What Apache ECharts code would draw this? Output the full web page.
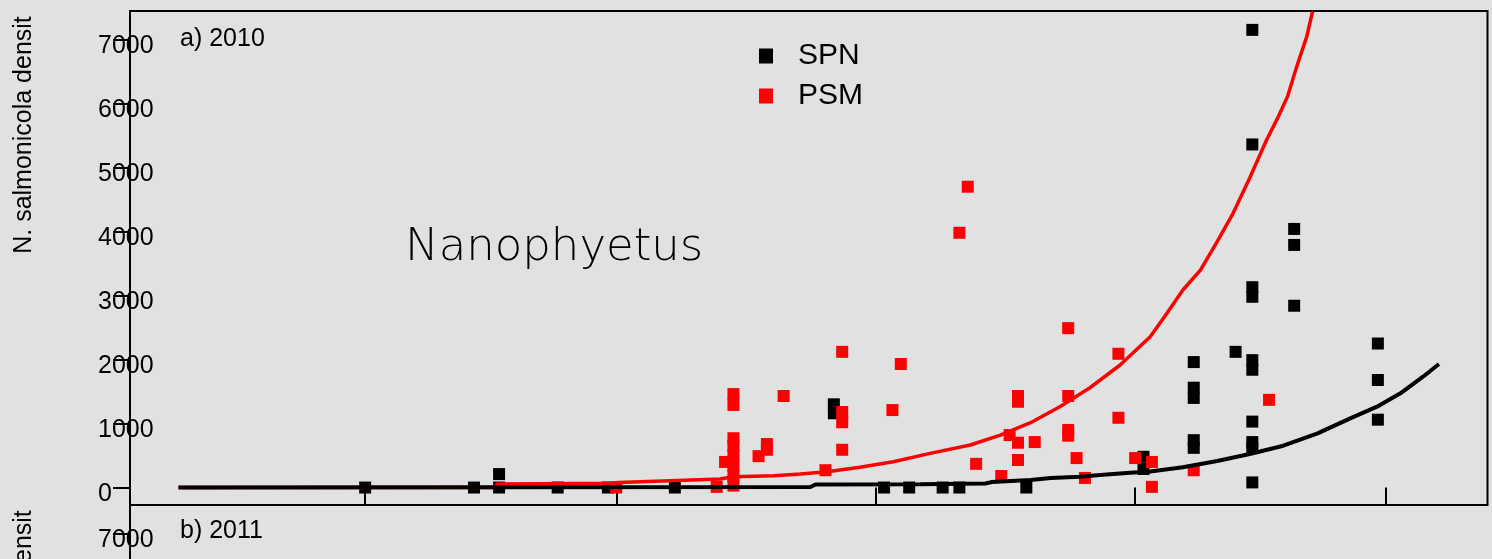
<!DOCTYPE html>
<html>
<head>
<meta charset="utf-8">
<script src="https://cdn.jsdelivr.net/npm/echarts@6/dist/echarts.min.js"></script>
<style>
  html, body { margin: 0; padding: 0; background: #e1e1e1; }
  #chart { width: 1492px; height: 559px; }
</style>
</head>
<body>
<div id="chart"></div>
<script>
// x = day of year 2010, ticks on the 1st of Jun, Jul, Aug, Sep, Oct
var monthTicks = [152, 182, 213, 244, 274];
var yTicks = [0, 1000, 2000, 3000, 4000, 5000, 6000, 7000];

// SPN observations
var spnDays = [152, 165, 168, 168, 175, 181, 189, 208, 208, 214, 217, 221, 223, 231, 245, 245,
  251, 251, 251, 251, 251, 256,
  258, 258, 258, 258, 258, 258, 258, 258, 258, 258,
  263, 263, 263, 273, 273, 273];
var spnValues = [0, 0, 210, 0, 0, 0, 0, 1300, 1160, 0, 0, 0, 0, 0, 480, 290,
  1960, 1560, 1400, 740, 620, 2120,
  7150, 5360, 3130, 2980, 1990, 1840, 1030, 710, 620, 80,
  4040, 3790, 2840, 2250, 1680, 1060];

// PSM observations
var psmDays = [182, 194, 195, 196, 196, 196, 196, 196, 196, 196, 196, 199, 200, 200, 202, 207,
  209, 209, 209, 209, 215, 216, 223, 224, 225, 228, 229, 230, 230, 230, 230, 232,
  236, 236, 236, 236, 237, 238, 242, 242, 244, 246, 246, 251, 260];
var psmValues = [0, 10, 400, 1460, 1290, 770, 650, 510, 340, 180, 30, 490, 680, 590, 1430, 270,
  2120, 1180, 1020, 590, 1210, 1930, 3980, 4700, 370, 180, 820, 1430, 1340, 700, 430, 710,
  2490, 1430, 900, 810, 460, 150, 2090, 1090, 460, 400, 10, 270, 1370];

// fitted curves
var spnFitDays = [129.7, 205.2, 205.8, 218.3, 226.1, 226.9, 231.5, 233.9, 237.4, 239.8, 243.4, 245.8,
  249.7, 253.8, 257.7, 261.7, 265.8, 269.7, 272.9, 275.7, 278.4, 280.3];
var spnFitValues = [0, 8, 47, 50, 63, 86, 117, 148, 169, 195, 231, 250,
  316, 414, 523, 653, 847, 1081, 1263, 1472, 1731, 1930];

var psmFitDays = [129.7, 167.4, 167.8, 181.5, 182.2, 188.4, 194.4, 196.0, 200.8, 204.0, 207.2, 211.1,
  215.1, 219.5, 224.3, 227.9, 231.5, 235.0, 238.6, 242.2, 245.8, 247.8, 249.7, 251.8, 253.8,
  255.7, 257.7, 259.7, 261.1, 262.2, 263.3, 264.5, 265.2];
var psmFitValues = [0, 0, 55, 66, 78, 106, 133, 169, 184, 211, 247, 316,
  403, 534, 664, 820, 1013, 1263, 1559, 1914, 2356, 2722, 3086, 3398, 3841,
  4284, 4839, 5430, 5794, 6107, 6575, 7044, 7437];

function pairs(xs, ys) {
  return xs.map(function(x, i) { return [x, ys[i]]; });
}

var font = 'Liberation Sans, Arial, sans-serif';
var xMin = 123.9, xMax = 286.1;
var yMin = -273, yMax = 7445;
// panel b only shows its top strip (same scale as panel a)
var yMinB = 6601;

function yAxisFor(idx, min) {
  var ticks = yTicks.filter(function(v) { return v >= min; });
  return {
    type: 'value', gridIndex: idx, min: min, max: yMax,
    axisLine: { show: true, lineStyle: { color: '#000', width: 2 } },
    axisTick: { show: true, customValues: ticks, length: 17, lineStyle: { color: '#000', width: 2 } },
    axisLabel: {
      show: true, customValues: ticks, align: 'left', margin: 32,
      formatter: function(v) { return '{v|' + v + '}'; },
      rich: { v: { padding: [13, 0, 0, 0], color: '#000', fontSize: 25, fontFamily: font } }
    },
    splitLine: { show: false }
  };
}

var chart = echarts.init(document.getElementById('chart'));
var option = {
  backgroundColor: '#e1e1e1',
  animation: false,
  grid: [
    { left: 130, right: 4.5, top: 11, height: 494, show: true, borderColor: '#000', borderWidth: 2, backgroundColor: 'transparent' },
    { left: 130, right: 4.5, top: 505, height: 54, show: false }
  ],
  xAxis: [{
    type: 'value', gridIndex: 0, min: xMin, max: xMax,
    axisLine: { show: false },
    axisTick: { show: true, customValues: monthTicks, length: 17, lineStyle: { color: '#000', width: 2 } },
    axisLabel: { show: false },
    splitLine: { show: false }
  }, {
    type: 'value', gridIndex: 1, min: xMin, max: xMax, show: false
  }],
  yAxis: [yAxisFor(0, yMin), yAxisFor(1, yMinB)],
  legend: {
    data: ['SPN', 'PSM'],
    orient: 'vertical',
    left: 759, top: 41, padding: 0,
    icon: 'rect', itemWidth: 14, itemHeight: 15, itemGap: 10,
    selectedMode: false,
    textStyle: { color: '#000', fontSize: 30, fontFamily: font, padding: [0, 0, 0, 20] }
  },
  graphic: [
    { type: 'text', x: 180, y: 39, style: { text: 'a) 2010', fill: '#000', font: '25px ' + font, textVerticalAlign: 'middle' } },
    { type: 'text', x: 180, y: 531, style: { text: 'b) 2011', fill: '#000', font: '25px ' + font, textVerticalAlign: 'middle' } },
    { type: 'text', x: 24, y: 135, rotation: Math.PI / 2, style: { text: 'N. salmonicola densit', fill: '#000', font: '25px ' + font, textAlign: 'center', textVerticalAlign: 'middle' } },
    { type: 'text', x: 24, y: 629, rotation: Math.PI / 2, style: { text: 'N. salmonicola densit', fill: '#000', font: '25px ' + font, textAlign: 'center', textVerticalAlign: 'middle' } },
    { type: 'text', x: 405, y: 248, style: { text: 'Nanophyetus', fill: '#000', font: '200 45px DejaVu Sans', textVerticalAlign: 'middle' } }
  ],
  series: [{
    name: 'SPN', type: 'scatter', xAxisIndex: 0, yAxisIndex: 0,
    symbol: 'rect', symbolSize: 12, itemStyle: { color: '#000', opacity: 1 }, z: 2,
    data: pairs(spnDays, spnValues)
  }, {
    name: 'PSM', type: 'scatter', xAxisIndex: 0, yAxisIndex: 0,
    symbol: 'rect', symbolSize: 12, itemStyle: { color: '#ff0000', opacity: 1 }, z: 3,
    data: pairs(psmDays, psmValues)
  }, {
    name: 'PSM fit', type: 'line', xAxisIndex: 0, yAxisIndex: 0,
    showSymbol: false, symbol: 'none', clip: true, z: 4,
    lineStyle: { color: '#ff0000', width: 3.5 },
    data: pairs(psmFitDays, psmFitValues)
  }, {
    name: 'SPN fit', type: 'line', xAxisIndex: 0, yAxisIndex: 0,
    showSymbol: false, symbol: 'none', clip: true, z: 5,
    lineStyle: { color: '#000', width: 4 },
    data: pairs(spnFitDays, spnFitValues)
  }]
};
chart.setOption(option);
</script>
</body>
</html>
